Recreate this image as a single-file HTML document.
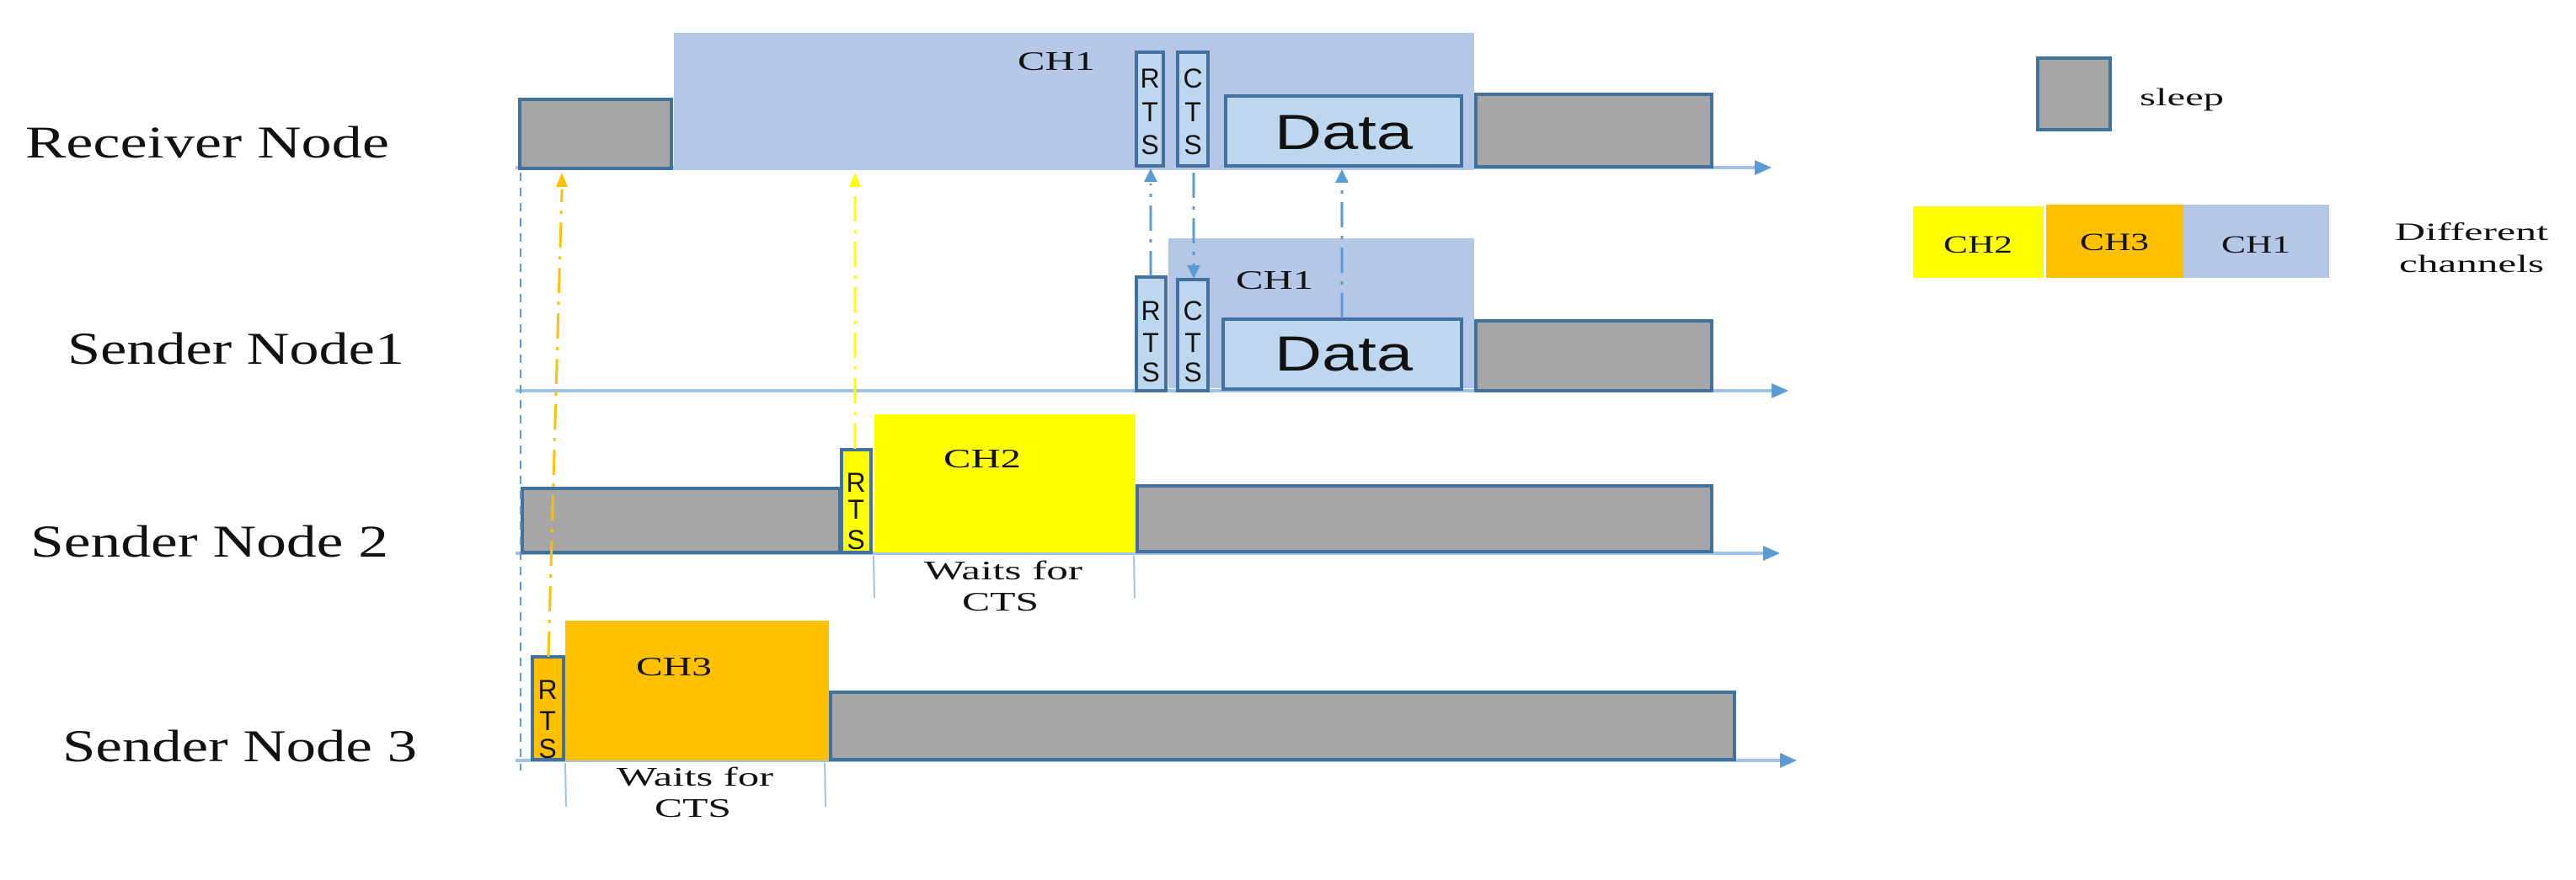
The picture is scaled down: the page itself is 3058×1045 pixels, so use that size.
<!DOCTYPE html>
<html><head><meta charset="utf-8"><style>html,body{margin:0;padding:0;background:#fff;}svg{display:block}</style></head>
<body>
<svg width="3058" height="1045" viewBox="0 0 3058 1045" xmlns="http://www.w3.org/2000/svg" font-family="Liberation Serif, serif">
<g stroke="#9dc3e6" stroke-width="4" fill="none">
<line x1="612" y1="199" x2="2090" y2="199"/>
<line x1="612" y1="464" x2="2110" y2="464"/>
<line x1="612" y1="657" x2="2100" y2="657"/>
<line x1="612" y1="903" x2="2120" y2="903"/>
</g>
<g fill="#5b9bd5">
<polygon points="2083,190 2103,199 2083,208"/>
<polygon points="2103,455 2123,464 2103,473"/>
<polygon points="2093,648 2113,657 2093,666"/>
<polygon points="2113,894 2133,903 2113,912"/>
</g>
<rect x="800" y="39" width="950" height="163" fill="#b4c7e7"/>
<rect x="1387" y="283" width="363" height="178" fill="#b4c7e7"/>
<rect x="1038" y="492" width="310" height="164" fill="#ffff00"/>
<rect x="671" y="737" width="313" height="166" fill="#ffc000"/>
<g stroke="#41719c" stroke-width="4">
<rect x="617" y="118" width="180" height="82" fill="#a6a6a6"/>
<rect x="1752" y="112" width="280" height="86" fill="#a6a6a6"/>
<rect x="1349" y="62" width="32" height="135" fill="#bdd7ee"/>
<rect x="1398" y="62" width="36" height="135" fill="#bdd7ee"/>
<rect x="1455" y="114" width="280" height="83" fill="#bdd7ee"/>
<rect x="1349" y="329" width="35" height="135" fill="#bdd7ee"/>
<rect x="1398" y="332" width="36" height="132" fill="#bdd7ee"/>
<rect x="1452" y="379" width="283" height="83" fill="#bdd7ee"/>
<rect x="1752" y="381" width="280" height="83" fill="#a6a6a6"/>
<rect x="620" y="580" width="377" height="76" fill="#a6a6a6"/>
<rect x="999" y="534" width="35" height="122" fill="#ffff00"/>
<rect x="1350" y="577" width="682" height="78" fill="#a6a6a6"/>
<rect x="632" y="780" width="37" height="122" fill="#ffc000"/>
<rect x="986" y="822" width="1073" height="80" fill="#a6a6a6"/>
<rect x="2419" y="69" width="86" height="85" fill="#a6a6a6"/>
</g>
<g fill="none" stroke-width="3">
<line x1="618" y1="205" x2="618" y2="915" stroke="#5b9bd5" stroke-dasharray="10,8" stroke-width="2"/>
<line x1="651" y1="780" x2="667" y2="225" stroke="#ffc000" stroke-dasharray="30,10,4,10"/>
<line x1="1015" y1="533" x2="1015" y2="225" stroke="#ffff00" stroke-dasharray="30,10,4,10"/>
<line x1="1366" y1="328" x2="1366" y2="218" stroke="#5b9bd5" stroke-dasharray="30,10,4,10"/>
<line x1="1417" y1="205" x2="1417" y2="315" stroke="#5b9bd5" stroke-dasharray="30,10,4,10"/>
<line x1="1593" y1="378" x2="1593" y2="220" stroke="#5b9bd5" stroke-dasharray="30,10,4,10"/>
<line x1="1037" y1="660" x2="1038" y2="710" stroke="#9dc3e6" stroke-width="2"/>
<line x1="1346" y1="660" x2="1347" y2="710" stroke="#9dc3e6" stroke-width="2"/>
<line x1="671" y1="906" x2="672" y2="958" stroke="#9dc3e6" stroke-width="2"/>
<line x1="979" y1="906" x2="980" y2="958" stroke="#9dc3e6" stroke-width="2"/>
</g>
<polygon points="660,222 667,205 674,222" fill="#ffc000"/>
<polygon points="1008,222 1015,205 1022,222" fill="#ffff00"/>
<g fill="#5b9bd5">
<polygon points="1358,216 1366,200 1374,216"/>
<polygon points="1409,315 1417,331 1425,315"/>
<polygon points="1585,217 1593,201 1601,217"/>
</g>
<g fill="#111">
<text x="30" y="187" font-size="54" textLength="432" lengthAdjust="spacingAndGlyphs">Receiver Node</text>
<text x="80" y="432" font-size="54" textLength="400" lengthAdjust="spacingAndGlyphs">Sender Node1</text>
<text x="36" y="661" font-size="54" textLength="425" lengthAdjust="spacingAndGlyphs">Sender Node 2</text>
<text x="74" y="904" font-size="54" textLength="421" lengthAdjust="spacingAndGlyphs">Sender Node 3</text>
<text x="1208" y="83" font-size="32" textLength="92" lengthAdjust="spacingAndGlyphs">CH1</text>
<text x="1467" y="343" font-size="32" textLength="92" lengthAdjust="spacingAndGlyphs">CH1</text>
<text x="1120" y="555" font-size="32" textLength="92" lengthAdjust="spacingAndGlyphs">CH2</text>
<text x="755" y="802" font-size="32" textLength="90" lengthAdjust="spacingAndGlyphs">CH3</text>
<text x="1097" y="688" font-size="32" textLength="188" lengthAdjust="spacingAndGlyphs">Waits for</text>
<text x="1142" y="725" font-size="32" textLength="91" lengthAdjust="spacingAndGlyphs">CTS</text>
<text x="732" y="933" font-size="32" textLength="186" lengthAdjust="spacingAndGlyphs">Waits for</text>
<text x="777" y="970" font-size="32" textLength="91" lengthAdjust="spacingAndGlyphs">CTS</text>
<text x="2540" y="125" font-size="30" textLength="100" lengthAdjust="spacingAndGlyphs">sleep</text>
<text x="2843" y="285" font-size="30" textLength="182" lengthAdjust="spacingAndGlyphs">Different</text>
<text x="2848" y="323" font-size="30" textLength="172" lengthAdjust="spacingAndGlyphs">channels</text>
</g>
<g font-family="Liberation Sans, sans-serif" fill="#111" font-size="32" text-anchor="middle">
<text x="1365" y="104">R</text><text x="1365" y="144">T</text><text x="1365" y="183">S</text>
<text x="1416" y="104">C</text><text x="1416" y="144">T</text><text x="1416" y="183">S</text>
<text x="1366" y="380">R</text><text x="1366" y="418">T</text><text x="1366" y="453">S</text>
<text x="1416" y="380">C</text><text x="1416" y="418">T</text><text x="1416" y="453">S</text>
<text x="1016" y="584">R</text><text x="1016" y="616">T</text><text x="1016" y="652">S</text>
<text x="650" y="830">R</text><text x="650" y="867">T</text><text x="650" y="900">S</text>
<text x="1595" y="177" font-size="58" textLength="164" lengthAdjust="spacingAndGlyphs">Data</text>
<text x="1595" y="440" font-size="58" textLength="164" lengthAdjust="spacingAndGlyphs">Data</text>
</g>
<rect x="2271" y="245" width="155" height="85" fill="#ffff00"/>
<rect x="2429" y="243" width="163" height="87" fill="#ffc000"/>
<rect x="2592" y="243" width="173" height="87" fill="#b4c7e7"/>
<g fill="#111" font-size="30">
<text x="2307" y="300" textLength="82" lengthAdjust="spacingAndGlyphs">CH2</text>
<text x="2469" y="297" textLength="82" lengthAdjust="spacingAndGlyphs">CH3</text>
<text x="2637" y="300" textLength="82" lengthAdjust="spacingAndGlyphs">CH1</text>
</g>
</svg>
</body></html>
